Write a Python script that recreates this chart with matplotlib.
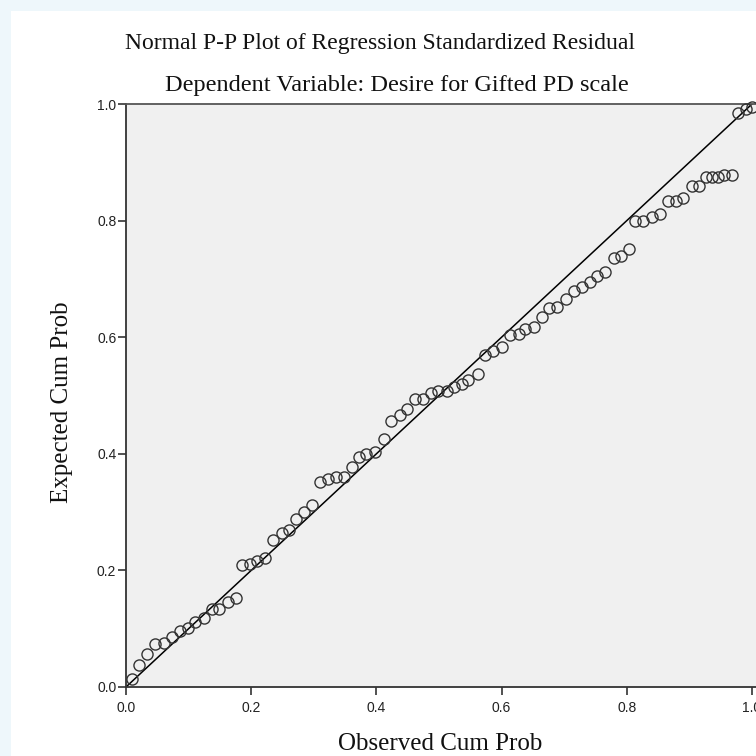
import matplotlib
matplotlib.use("Agg")
import matplotlib.pyplot as plt
from matplotlib.patches import Rectangle

# observed vs expected cumulative probabilities
observed = [0.009, 0.020, 0.033, 0.047, 0.060, 0.073, 0.086, 0.099, 0.111, 0.125,
            0.137, 0.149, 0.163, 0.175, 0.185, 0.198, 0.210, 0.222, 0.235, 0.249,
            0.260, 0.272, 0.284, 0.297, 0.310, 0.323, 0.335, 0.348, 0.361, 0.373,
            0.384, 0.398, 0.412, 0.424, 0.437, 0.449, 0.462, 0.474, 0.487, 0.499,
            0.513, 0.524, 0.537, 0.547, 0.562, 0.573, 0.587, 0.600, 0.613, 0.627,
            0.637, 0.651, 0.664, 0.676, 0.689, 0.703, 0.716, 0.728, 0.741, 0.753,
            0.765, 0.779, 0.791, 0.803, 0.813, 0.826, 0.840, 0.853, 0.866, 0.879,
            0.890, 0.904, 0.916, 0.926, 0.936, 0.946, 0.956, 0.968, 0.978, 0.990,
            1.000]
expected = [0.013, 0.038, 0.057, 0.074, 0.076, 0.086, 0.096, 0.102, 0.112, 0.119,
            0.133, 0.134, 0.145, 0.152, 0.210, 0.211, 0.216, 0.221, 0.252, 0.264,
            0.270, 0.288, 0.300, 0.312, 0.351, 0.357, 0.360, 0.361, 0.377, 0.394,
            0.399, 0.403, 0.426, 0.457, 0.466, 0.476, 0.494, 0.494, 0.504, 0.508,
            0.508, 0.515, 0.520, 0.526, 0.537, 0.569, 0.577, 0.583, 0.603, 0.605,
            0.614, 0.617, 0.634, 0.650, 0.652, 0.665, 0.680, 0.686, 0.695, 0.705,
            0.712, 0.735, 0.739, 0.752, 0.800, 0.800, 0.806, 0.812, 0.834, 0.834,
            0.838, 0.859, 0.859, 0.874, 0.875, 0.875, 0.878, 0.878, 0.984, 0.991,
            0.995]
ticks = [0.0, 0.2, 0.4, 0.6, 0.8, 1.0]

fig = plt.figure(figsize=(7.56, 7.56), dpi=100, facecolor="#eef7fb")
fig.patches.append(Rectangle((11/756, 0), 1, 1 - 11/756, transform=fig.transFigure,
                             facecolor="white", edgecolor="none", zorder=-10))

ax = fig.add_axes([126/756, 69/756, 1.02*626/756, 583/756])
ax.set_facecolor("#f0f0f0")
ax.plot([0, 1], [0, 1], color="black", lw=1.1, zorder=2)
ax.plot(observed, expected, "o", ms=8, mfc="none", mec="#333333", mew=1.0,
        zorder=3, clip_on=False)

ax.set_xlim(0, 1.02)
ax.set_ylim(0, 1)
ax.set_xticks(ticks)
ax.set_yticks(ticks)
ax.set_xticklabels(["%.1f" % t for t in ticks])
ax.set_yticklabels(["%.1f" % t for t in ticks])
for s in ["left", "bottom", "top"]:
    ax.spines[s].set_color("#333333")
    ax.spines[s].set_linewidth(1.3)
ax.spines["top"].set_color("#555555")
ax.spines["right"].set_visible(False)
ax.tick_params(direction="out", length=6, width=1.2, color="#333333",
               labelsize=10, pad=1)
ax.tick_params(axis="x", pad=4)
for lab in ax.get_xticklabels() + ax.get_yticklabels():
    lab.set_family("Liberation Sans")
    lab.set_color("#222222")

serif = "Liberation Serif"
fig.text(380/756, 1 - 44/756, "Normal P-P Plot of Regression Standardized Residual",
         ha="center", va="center", family=serif, fontsize=17, color="#111111")
fig.text(397/756, 1 - 85/756, "Dependent Variable: Desire for Gifted PD scale",
         ha="center", va="center", family=serif, fontsize=17.5, color="#111111")
fig.text(62/756, 1 - 402/756, "Expected Cum Prob", rotation=90,
         ha="center", va="center", family=serif, fontsize=18, color="#111111")
fig.text(440/756, 1 - 744/756, "Observed Cum Prob",
         ha="center", va="center", family=serif, fontsize=18, color="#111111")

fig.savefig("out.png", dpi=100, facecolor=fig.get_facecolor())
